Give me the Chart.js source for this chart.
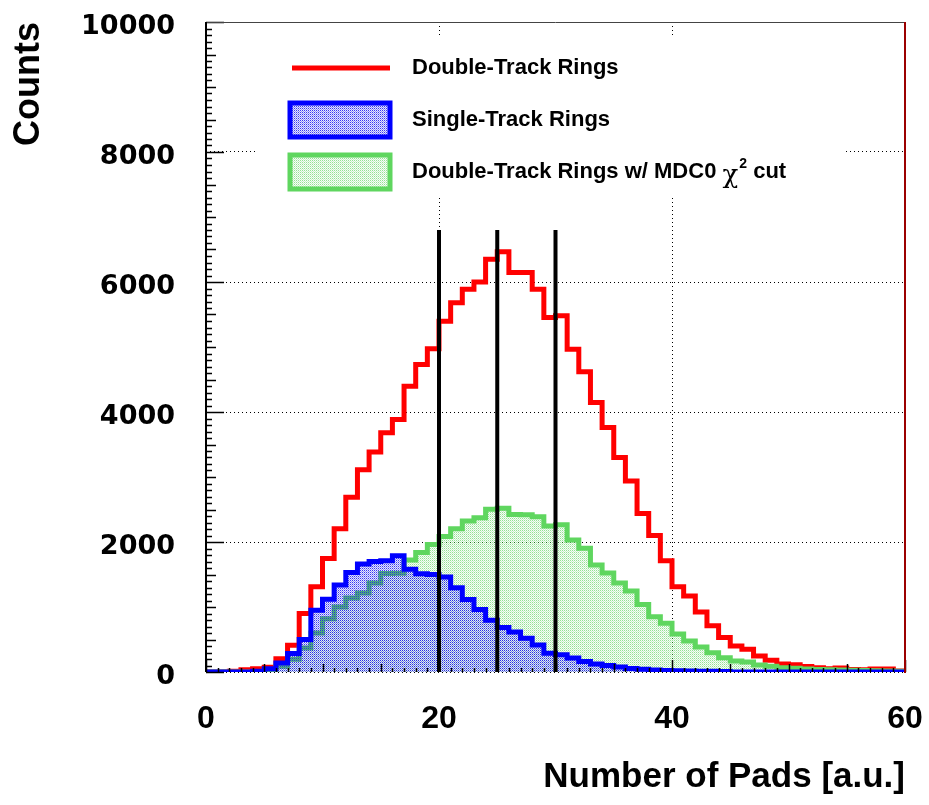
<!DOCTYPE html>
<html>
<head>
  <title>Number of Pads</title>
  <script src="https://cdn.jsdelivr.net/npm/chart.js"></script>
  <style>
    body { margin: 0; background: #fff; }
    #wrap { width: 929px; height: 805px; }
  </style>
</head>
<body>
  <div id="wrap"><canvas id="chartCanvas" width="929" height="805"></canvas></div>

  <script>
    // bin edges in pads (bin width 1), last edge closes the final bin
    const binEdges = [0, 1, 2, 3, 4, 5, 6, 7, 8, 9, 10, 11, 12, 13, 14, 15, 16, 17, 18, 19,
      20, 21, 22, 23, 24, 25, 26, 27, 28, 29, 30, 31, 32, 33, 34, 35, 36, 37, 38, 39,
      40, 41, 42, 43, 44, 45, 46, 47, 48, 49, 50, 51, 52, 53, 54, 55, 56, 57, 58, 59, 60];

    const doubleTrack = [0, 0, 10, 35, 50, 75, 205, 410, 900, 1310,
      1745, 2205, 2690, 3110, 3385, 3680, 3885, 4395, 4730, 4975,
      5395, 5680, 5890, 6000, 6350, 6465, 6145, 6145, 5890, 5455,
      5480, 4965, 4620, 4145, 3760, 3300, 2940, 2440, 2100, 1710,
      1310, 1170, 925, 710, 530, 400, 350, 245, 180, 125,
      110, 85, 65, 50, 60, 40, 35, 45, 45, 15];

    const singleTrack = [0, 0, 0, 0, 10, 50, 140, 285, 500, 950,
      1120, 1340, 1530, 1660, 1700, 1710, 1790, 1580, 1510, 1500,
      1460, 1295, 1115, 960, 795, 685, 615, 520, 415, 290,
      265, 215, 160, 125, 100, 78, 55, 42, 32, 22,
      18, 15, 12, 10, 8, 0, 0, 0, 0, 0,
      0, 0, 0, 0, 0, 0, 0, 0, 0, 0];

    const doubleTrackCut = [0, 0, 0, 0, 5, 30, 90, 195, 370, 600,
      820, 1000, 1140, 1215, 1368, 1515, 1520, 1725, 1840, 1960,
      2085, 2205, 2325, 2375, 2505, 2520, 2425, 2420, 2390, 2245,
      2265, 2030, 1905, 1645, 1525, 1370, 1245, 1040, 850, 750,
      585, 477, 385, 298, 221, 169, 154, 108, 87, 67,
      56, 45, 40, 35, 30, 28, 25, 20, 15, 10];

    // vertical cut markers
    const cutPositions = [20, 25, 30];
    const cutHeight = 6800;

    const yTicks = [0, 2000, 4000, 6000, 8000, 10000];
    const xTicks = [0, 20, 40, 60];

    const legendLabels = ['Double-Track Rings', 'Single-Track Rings', 'Double-Track Rings w/ MDC0 '];

    const RED = '#ff0000';
    const BLUE = '#0000ff';
    const GREEN = '#5fd65f';

    const canvas = document.getElementById('chartCanvas');
    const ctx = canvas.getContext('2d');

    // small 2x2 dot tile, used as a hatch-like fill
    function dotPattern(rgb, alphas) {
      const tile = document.createElement('canvas');
      tile.width = 2;
      tile.height = 2;
      const t = tile.getContext('2d');
      alphas.forEach((a, k) => {
        t.fillStyle = 'rgba(' + rgb + ',' + a + ')';
        t.fillRect(k % 2, Math.floor(k / 2), 1, 1);
      });
      return ctx.createPattern(tile, 'repeat');
    }

    const blueFill = dotPattern('20,20,240', [0.85, 0.1, 0.1, 0.45]);
    const greenFill = dotPattern('60,200,60', [0.55, 0.04, 0.04, 0.28]);

    function histPoints(values) {
      return binEdges.map((e, i) => ({ x: e, y: values[Math.min(i, values.length - 1)] }));
    }

    const histStyle = {
      stepped: true,
      pointRadius: 0,
      borderWidth: 5,
      borderJoinStyle: 'miter',
      borderCapStyle: 'butt',
      tension: 0
    };

    const datasets = [
      Object.assign({ label: legendLabels[1], data: histPoints(singleTrack), borderColor: BLUE,
        backgroundColor: blueFill, fill: 'origin', order: 1 }, histStyle),
      Object.assign({ label: legendLabels[2], data: histPoints(doubleTrackCut), borderColor: GREEN,
        backgroundColor: greenFill, fill: 'origin', order: 2 }, histStyle),
      Object.assign({ label: legendLabels[0], data: histPoints(doubleTrack), borderColor: RED,
        fill: false, order: 3 }, histStyle)
    ];

    cutPositions.forEach(c => {
      datasets.push({
        label: 'cut ' + c,
        data: [{ x: c, y: 0 }, { x: c, y: cutHeight }],
        borderColor: '#000',
        borderWidth: 4,
        pointRadius: 0,
        fill: false,
        order: 0
      });
    });

    // keep the plot frame fixed: no extra room for edge labels
    function noEdgePadding(s) {
      s.paddingTop = 0;
      s.paddingBottom = 0;
      s.paddingLeft = 0;
      s.paddingRight = 0;
    }

    // minor/medium/major tick marks inside the frame, plus the frame itself
    const frameTicks = {
      id: 'frameTicks',
      afterDatasetsDraw(chart) {
        const { ctx, chartArea: a, scales: { x, y } } = chart;
        ctx.save();
        ctx.strokeStyle = '#000';
        ctx.lineWidth = 1.5;
        ctx.beginPath();
        for (let v = 0; v <= 10000; v += 100) {
          const len = v % 2000 === 0 ? 18 : (v % 500 === 0 ? 10 : 6);
          const py = Math.round(y.getPixelForValue(v)) + 0.5;
          ctx.moveTo(a.left, py);
          ctx.lineTo(a.left + len, py);
        }
        for (let v = 0; v <= 60; v += 1) {
          const len = v % 20 === 0 ? 12 : (v % 5 === 0 ? 8 : 4);
          const px = Math.round(x.getPixelForValue(v)) + 0.5;
          ctx.moveTo(px, a.bottom);
          ctx.lineTo(px, a.bottom - len);
        }
        ctx.stroke();

        ctx.lineWidth = 1;
        ctx.strokeStyle = '#444';
        ctx.beginPath();
        ctx.moveTo(a.left, a.top + 0.5);
        ctx.lineTo(a.right, a.top + 0.5);
        ctx.stroke();

        ctx.lineWidth = 2;
        ctx.strokeStyle = '#000';
        ctx.beginPath();
        ctx.moveTo(a.left, a.top);
        ctx.lineTo(a.left, a.bottom);
        ctx.stroke();

        ctx.strokeStyle = '#9b0000';
        ctx.beginPath();
        ctx.moveTo(a.right, a.top);
        ctx.lineTo(a.right, a.bottom + 1);
        ctx.stroke();
        ctx.restore();
      }
    };

    // boxed legend in the upper part of the frame
    const legendBox = {
      id: 'legendBox',
      afterDraw(chart) {
        const c = chart.ctx;
        c.save();
        c.fillStyle = '#fff';
        c.fillRect(258, 37, 587, 160);

        c.lineWidth = 5;
        c.strokeStyle = RED;
        c.beginPath();
        c.moveTo(292, 68);
        c.lineTo(390, 68);
        c.stroke();

        c.fillStyle = blueFill;
        c.fillRect(290, 103, 100, 34);
        c.strokeStyle = BLUE;
        c.strokeRect(290, 103, 100, 34);

        c.fillStyle = greenFill;
        c.fillRect(290, 155, 100, 34);
        c.strokeStyle = GREEN;
        c.strokeRect(290, 155, 100, 34);

        c.fillStyle = '#000';
        c.textBaseline = 'middle';
        c.textAlign = 'left';
        c.font = 'bold 22px "Liberation Sans", Arial, sans-serif';
        c.fillText(legendLabels[0], 412, 68);
        c.fillText(legendLabels[1], 412, 120);
        c.fillText(legendLabels[2], 412, 172);
        let tx = 412 + c.measureText(legendLabels[2]).width;
        c.font = '26px "DejaVu Serif", serif';
        c.fillText('\u03c7', tx, 176);
        tx += c.measureText('\u03c7').width + 1;
        c.font = 'bold 14px "Liberation Sans", Arial, sans-serif';
        c.fillText('2', tx, 164);
        tx += c.measureText('2').width;
        c.font = 'bold 22px "Liberation Sans", Arial, sans-serif';
        c.fillText(' cut', tx, 172);
        c.restore();
      }
    };

    Chart.defaults.font.family = '"Liberation Sans", Arial, sans-serif';
    Chart.defaults.color = '#000';

    new Chart(ctx, {
      type: 'line',
      data: { datasets: datasets },
      options: {
        responsive: false,
        animation: false,
        events: [],
        layout: { padding: { top: 22, right: 24, left: 0, bottom: 0 } },
        plugins: {
          legend: { display: false },
          tooltip: { enabled: false }
        },
        scales: {
          x: {
            type: 'linear',
            min: 0,
            max: 60,
            afterBuildTicks: s => { s.ticks = xTicks.map(v => ({ value: v })); },
            afterFit: s => { s.height = 133; noEdgePadding(s); },
            ticks: {
              padding: 28,
              maxRotation: 0,
              font: { size: 32, weight: 'bold' },
              callback: v => String(v)
            },
            grid: { color: '#000', lineWidth: 1, drawTicks: false },
            border: { display: false, dash: [1, 3] },
            title: {
              display: true,
              text: 'Number of Pads [a.u.]',
              align: 'end',
              font: { size: 35, weight: 'bold' },
              padding: { top: 0, bottom: 7 }
            }
          },
          y: {
            type: 'linear',
            min: 0,
            max: 10000,
            afterBuildTicks: s => { s.ticks = yTicks.map(v => ({ value: v })); },
            afterFit: s => { s.width = 206; noEdgePadding(s); },
            ticks: {
              padding: 31,
              labelOffset: 5,
              font: { family: '"DejaVu Sans", sans-serif', size: 27, weight: 'bold' },
              callback: v => String(v)
            },
            grid: { color: '#000', lineWidth: 1, drawTicks: false },
            border: { display: false, dash: [1, 3] },
            title: {
              display: true,
              text: 'Counts',
              align: 'end',
              font: { size: 36, weight: 'bold' },
              padding: { top: 7, bottom: 0 }
            }
          }
        }
      },
      plugins: [frameTicks, legendBox]
    });
  </script>
</body>
</html>
